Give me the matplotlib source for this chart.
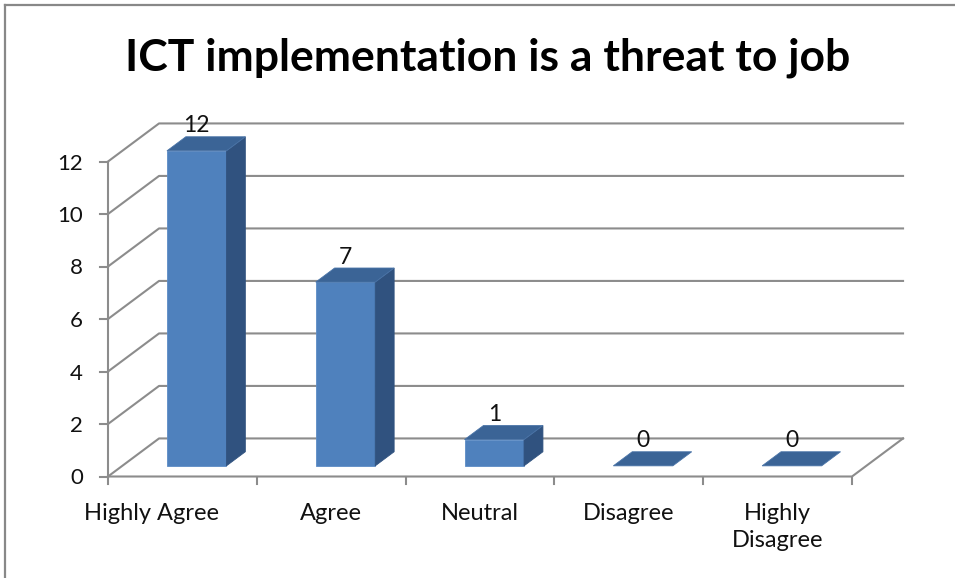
import matplotlib
matplotlib.use('Agg')
from matplotlib import pyplot as plt, transforms
from matplotlib.patches import Polygon
from matplotlib.lines import Line2D

# survey answers and counts
categories = ['Highly Agree', 'Agree', 'Neutral', 'Disagree', 'Highly\nDisagree']
counts = [12, 7, 1, 0, 0]
yticks = [0, 2, 4, 6, 8, 10, 12]
title = 'ICT implementation is a threat to job'

# fake 3d: how far the back wall sits, in category / value units
DX = 0.343
DY = 1.45
# bar footprint inside a category slot (width) and along the depth
BAR_L, BAR_R = 0.30, 0.70
D0, D1 = 0.28, 0.65

FRONT = '#4F81BD'
TOP = '#3B6496'
SIDE = '#30527F'
GRID = '#8C8C8C'
TXT = '#111111'

plt.rcParams['font.family'] = ['Lato', 'DejaVu Sans']

W, H = 955, 578
fig = plt.figure(figsize=(W / 100, H / 100), dpi=100)
ax = fig.add_axes([108 / W, 101.5 / H, 744 / W, 315 / H])
ax.set_xlim(0, len(categories))
ax.set_ylim(0, yticks[-1])
ax.axis('off')


def proj(x, y, d):
    return (x + d * DX, y + d * DY)


def polyline(pts):
    ax.add_line(Line2D([p[0] for p in pts], [p[1] for p in pts], color=GRID,
                       lw=1.5, clip_on=False, zorder=1))


def shift(dx, dy):
    return transforms.offset_copy(ax.transData, fig, x=dx, y=dy, units='dots')


n = len(categories)
# side wall diagonals + back wall gridlines
for v in yticks:
    polyline([proj(0, v, 0), proj(0, v, 1), proj(n, v, 1)])
# floor front and right edges, y axis
polyline([proj(0, 0, 0), proj(n, 0, 0), proj(n, 0, 1)])
polyline([(0, 0), (0, yticks[-1])])

# y ticks and labels
for v in yticks:
    a = ax.transData.transform((0, v))
    fig.add_artist(Line2D([(a[0] - 8) / W, a[0] / W], [a[1] / H, a[1] / H],
                          color=GRID, lw=1.5))
    ax.text(0, v, str(v), transform=shift(-25, 0), ha='right', va='center_baseline',
            fontsize=16, color=TXT)
# tick marks between categories
for i in range(n + 1):
    a = ax.transData.transform((i, 0))
    fig.add_artist(Line2D([a[0] / W, a[0] / W], [a[1] / H, (a[1] - 7) / H],
                          color=GRID, lw=1.5))

# category labels
nudge = [-31, 0, 0, 0, 0]
for i, (c, dx) in enumerate(zip(categories, nudge)):
    ax.text(i + 0.5, 0, c, transform=shift(dx, -26), ha='center', va='top',
            fontsize=17, linespacing=1.4, color=TXT)

# bars
for i, v in enumerate(counts):
    xl, xr = i + BAR_L, i + BAR_R
    top = [proj(xl, v, D0), proj(xr, v, D0), proj(xr, v, D1), proj(xl, v, D1)]
    if v > 0:
        front = [proj(xl, 0, D0), proj(xr, 0, D0), proj(xr, v, D0), proj(xl, v, D0)]
        side = [proj(xr, 0, D0), proj(xr, 0, D1), proj(xr, v, D1), proj(xr, v, D0)]
        ax.add_patch(Polygon(front, closed=True, fc=FRONT, ec='#5d8cc6', lw=0.6,
                             zorder=3, clip_on=False))
        ax.add_patch(Polygon(side, closed=True, fc=SIDE, ec=SIDE, lw=0.6,
                             zorder=3, clip_on=False))
    ax.add_patch(Polygon(top, closed=True, fc=TOP, ec='#4a74a8', lw=0.6,
                         zorder=3, clip_on=False))
    lx, _ = proj(i + 0.5, v, D0)
    _, ly = proj(i + 0.5, v, D1)
    ax.text(lx, ly, str(v), transform=shift(0, 4.5), ha='center', va='baseline',
            fontsize=16.5, color=TXT, zorder=4)

fig.text(487.5 / W, (H - 70) / H, title, ha='center', va='baseline',
         fontsize=32, fontweight='bold', color='black')

# outer frame (top and left edges)
fig.add_artist(Line2D([5 / W, 5 / W], [0, 1 - 5 / H], color='#888888', lw=1.6))
fig.add_artist(Line2D([5 / W, 1], [1 - 5 / H, 1 - 5 / H], color='#888888', lw=1.6))

fig.savefig('out.png', dpi=100)
